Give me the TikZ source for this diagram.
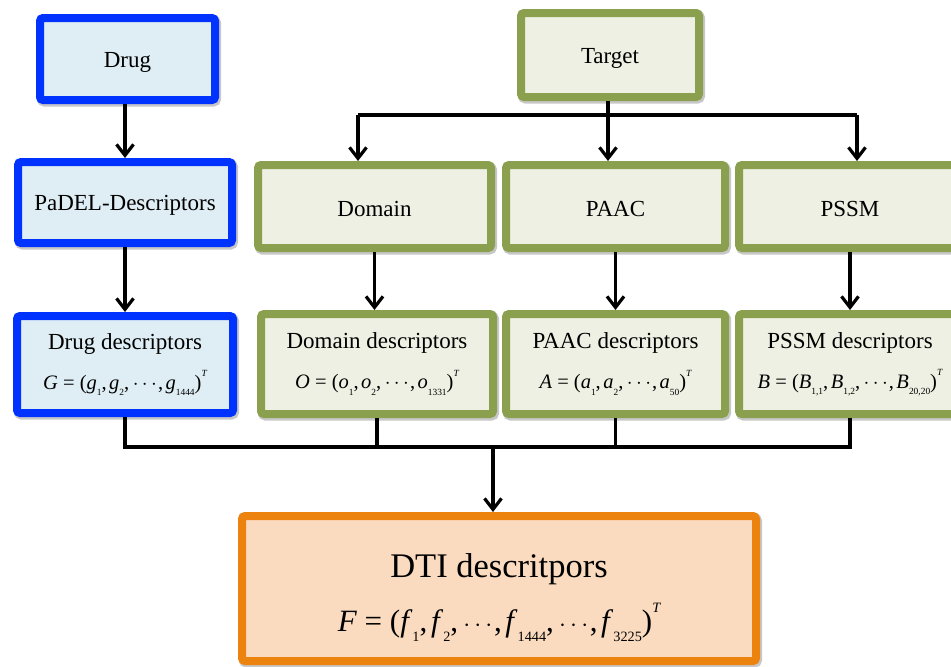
\documentclass[tikz,border=0pt]{standalone}
\usepackage{fontspec}
\setmainfont{Liberation Serif}
\usetikzlibrary{arrows.meta,shadows}

\definecolor{drugline}{RGB}{0,51,255}
\definecolor{drugfill}{RGB}{223,238,244}
\definecolor{tgtline}{RGB}{138,160,78}
\definecolor{tgtfill}{RGB}{237,240,227}
\definecolor{dtiline}{RGB}{236,131,14}
\definecolor{dtifill}{RGB}{250,219,191}

% small subscript / superscript for the descriptor vectors
\makeatletter
\newdimen\smalldim
\newcommand{\lo}[1]{{\smalldim=\f@size pt \smalldim=0.46\smalldim
  \raisebox{-0.3em}{\fontsize{\smalldim}{\smalldim}\selectfont #1}}}
\newcommand{\hi}[1]{{\smalldim=\f@size pt \smalldim=0.46\smalldim
  \raisebox{0.62em}{\fontsize{\smalldim}{\smalldim}\selectfont\itshape #1}}}
\makeatother
\newcommand{\veccomma}{,\kern0.12em}
\newcommand{\vecdots}{\kern0.05em$\cdots$\kern0.05em}

\tikzset{
  box/.style={rectangle, rounded corners=3pt, line width=8pt, inner sep=0pt,
    align=center, font=\fontsize{23}{27}\selectfont,
    drop shadow={shadow xshift=1.5pt, shadow yshift=-2pt, opacity=0.22,
      fill=black, draw=black, line width=9pt}},
  drugbox/.style={box, draw=drugline, fill=drugfill},
  tgtbox/.style={box, draw=tgtline, fill=tgtfill},
  dtibox/.style={box, draw=dtiline, fill=dtifill},
  wire/.style={line width=3.2pt},
  arr/.style={line width=3.2pt, -{Straight Barb[length=11pt,width=17pt]}},
}

\newcommand{\formula}{\fontsize{20.5}{23}\selectfont}
\newcommand{\padtop}{\rule{0pt}{21pt}}

\begin{document}
\begin{tikzpicture}[x=1pt, y=-1pt]
\useasboundingbox (0,0) rectangle (951,667);

% drug column
\node[drugbox, minimum width=175pt, minimum height=82pt] (drug) at (127.5,59) {\padtop Drug};
\node[drugbox, minimum width=214pt, minimum height=81pt] (padel) at (125,202.5) {\padtop PaDEL-Descriptors};
\node[drugbox, minimum width=216pt, minimum height=97pt] (drugdesc) at (125,364.5)
  {Drug descriptors\\[13pt]
   {\formula\textit{G} = (\textit{g}\lo{1}\veccomma\textit{g}\lo{2}\veccomma\vecdots\veccomma\textit{g}\lo{1444})\hi{T}}};

% target column
\node[tgtbox, minimum width=178pt, minimum height=84pt] (target) at (610,55) {\padtop Target};
\node[tgtbox, minimum width=233pt, minimum height=83pt] (domain) at (374.5,206.5) {\padtop Domain};
\node[tgtbox, minimum width=219pt, minimum height=83pt] (paac) at (615.5,206.5) {\padtop PAAC};
\node[tgtbox, minimum width=222pt, minimum height=83pt] (pssm) at (850,206.5) {\padtop PSSM};

\node[tgtbox, minimum width=232pt, minimum height=100pt] (domdesc) at (377,364)
  {Domain descriptors\\[13pt]
   {\formula\textit{O} = (\textit{o}\lo{1}\veccomma\textit{o}\lo{2}\veccomma\vecdots\veccomma\textit{o}\lo{1331})\hi{T}}};
\node[tgtbox, minimum width=219pt, minimum height=100pt] (paacdesc) at (615.5,364)
  {PAAC descriptors\\[13pt]
   {\formula\textit{A} = (\textit{a}\lo{1}\veccomma\textit{a}\lo{2}\veccomma\vecdots\veccomma\textit{a}\lo{50})\hi{T}}};
\node[tgtbox, minimum width=222pt, minimum height=100pt] (pssmdesc) at (850,364)
  {PSSM descriptors\\[13pt]
   {\formula\textit{B} = (\textit{B}\lo{1,1}\veccomma\textit{B}\lo{1,2}\veccomma\vecdots\veccomma\textit{B}\lo{20,20})\hi{T}}};

% combined descriptor
\node[dtibox, minimum width=514pt, minimum height=145pt, font=\fontsize{34.5}{40}\selectfont] (dti) at (499,588.5)
  {\rule{0pt}{42pt}DTI descritpors\\[14pt]
   {\fontsize{31}{35}\selectfont\textit{F} = (\textit{f}\lo{1}\veccomma\textit{f}\lo{2}\veccomma\vecdots\veccomma\textit{f}\lo{1444}\veccomma\vecdots\veccomma\textit{f}\lo{3225})\hi{T}}};

% drug pipeline
\draw[arr] (drug.south -| padel.north) -- (padel.north);
\draw[arr] (padel.south) -- (drugdesc.north);

% target split
\coordinate (b1) at (358,115);
\coordinate (b2) at (608,115);
\coordinate (b3) at (857,115);
\draw[wire] (target.south -| b2) -- (b2);
\draw[wire] (b1) -- (b3);
\draw[arr] (b1) -- (b1 |- domain.north);
\draw[arr] (b2) -- (b2 |- paac.north);
\draw[arr] (b3) -- (b3 |- pssm.north);

\draw[arr] (domain.south) -- (domain.south |- domdesc.north);
\draw[arr] (paac.south) -- (paac.south |- paacdesc.north);
\draw[arr] (pssm.south) -- (pssm.south |- pssmdesc.north);

% merge into the DTI vector
\coordinate (bus) at (493,447);
\draw[wire] (drugdesc.south) -- (drugdesc.south |- bus) -- (pssmdesc.south |- bus) -- (pssmdesc.south);
\draw[wire] (domdesc.south) -- (domdesc.south |- bus);
\draw[wire] (paacdesc.south) -- (paacdesc.south |- bus);
\draw[arr] (bus) -- (bus |- dti.north);
\end{tikzpicture}
\end{document}
